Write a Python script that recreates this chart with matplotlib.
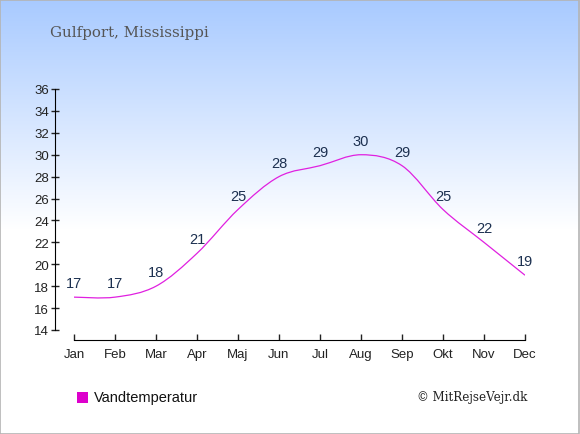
import numpy as np
import matplotlib.pyplot as plt
from matplotlib.path import Path
from matplotlib.patches import PathPatch, Rectangle

months = ["Jan", "Feb", "Mar", "Apr", "Maj", "Jun", "Jul", "Aug", "Sep", "Okt", "Nov", "Dec"]
water_temp = [17, 17, 18, 21, 25, 28, 29, 30, 29, 25, 22, 19]
yticks = list(range(14, 37, 2))

W, H = 580, 435
fig = plt.figure(figsize=(W / 100, H / 100), dpi=100)

# background gradient (light blue at top fading to white)
bg = fig.add_axes([0, 0, 1, 1], zorder=-10)
bg.set_axis_off()
grad = np.ones((H, 1, 3))
top = np.array([168, 202, 255]) / 255.0
fade = 230
for r in range(fade):
    t = r / fade
    grad[r, 0] = top * (1 - t) + np.ones(3) * t
bg.imshow(grad, aspect="auto", extent=[0, 1, 0, 1], interpolation="bilinear")
bg.set_xlim(0, 1)
bg.set_ylim(0, 1)
bg.add_patch(Rectangle((0.0008, 0.001), 0.998, 0.997, fill=False, ec="#b4b4b4", lw=1.2,
                       transform=bg.transAxes))

ax = fig.add_axes([74 / W, (H - 331) / H, (525 - 74) / W, (331 - 90) / H])
ax.patch.set_alpha(0)
x = np.arange(len(months))
ax.set_xlim(0, 11)
ax.set_ylim(14, 36)

# smooth line through the points (Catmull-Rom style bezier)
y = np.array(water_temp, dtype=float)
verts = [(x[0], y[0])]
codes = [Path.MOVETO]
k = 1 / 6
for i in range(len(x) - 1):
    x0, y0 = (x[i - 1], y[i - 1]) if i > 0 else (x[i], y[i])
    x3, y3 = (x[i + 2], y[i + 2]) if i + 2 < len(x) else (x[i + 1], y[i + 1])
    c1 = (x[i] + (x[i + 1] - x0) * k, y[i] + (y[i + 1] - y0) * k)
    c2 = (x[i + 1] - (x3 - x[i]) * k, y[i + 1] - (y3 - y[i]) * k)
    verts += [c1, c2, (x[i + 1], y[i + 1])]
    codes += [Path.CURVE4] * 3
ax.add_patch(PathPatch(Path(verts, codes), fill=False, ec="#e020e0", lw=0.9))

for xi, v in zip(x, water_temp):
    ax.annotate(str(v), (xi, v), xytext=(0, 10), textcoords="offset points",
                ha="center", va="center", fontsize=10.5, color="#1c3050",
                family="Liberation Sans")

for s in ["top", "right"]:
    ax.spines[s].set_visible(False)
ax.spines["left"].set_position(("outward", 14))
ax.spines["bottom"].set_position(("outward", 7.2))
ax.spines["left"].set_bounds(14, 36)
ax.spines["bottom"].set_bounds(0, 11)
ax.set_xticks(x)
ax.set_xticklabels(months)
ax.set_yticks(yticks)
ax.tick_params(axis="y", direction="inout", length=6, width=1, labelsize=9.5,
               colors="#222222", pad=1)
ax.tick_params(axis="x", direction="in", length=4, width=1, labelsize=9.5,
               colors="#222222", pad=6)
for lab in ax.get_xticklabels() + ax.get_yticklabels():
    lab.set_family("Liberation Sans")

fig.text(50 / W, 1 - 33 / H, "Gulfport, Mississippi", family="DejaVu Serif",
         fontsize=10.8, color="#555555", va="center", ha="left")

fig.patches.append(Rectangle((77 / W, 1 - 404 / H), 11 / W, 11 / H, transform=fig.transFigure,
                             fc="#dd00cc", ec="none"))
fig.text(94 / W, 1 - 398 / H, "Vandtemperatur", family="Liberation Sans",
         fontsize=10.5, color="#111111", va="center", ha="left")
fig.text(527 / W, 1 - 398 / H, "© MitRejseVejr.dk", family="DejaVu Serif",
         fontsize=8.6, color="#222222", va="center", ha="right")

fig.savefig("out.png", dpi=100)
